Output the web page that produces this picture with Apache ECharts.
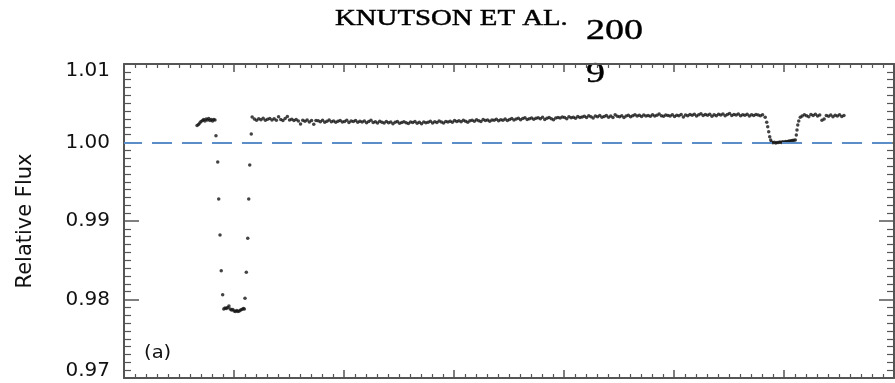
<!DOCTYPE html>
<html><head><meta charset="utf-8">
<script src="https://cdn.jsdelivr.net/npm/echarts@6/dist/echarts.min.js"></script>
<style>html,body{margin:0;padding:0;background:#fff}#c{width:895px;height:383px}</style>
</head><body><div id="c"></div>
<script>
// Axis ranges / ticks
const xTicks = [-0.1, 0.0, 0.1, 0.2, 0.3, 0.4, 0.5, 0.6];
const yTickLabels = ['0.97', '0.98', '0.99', '1.00', '1.01'];

// Transit (orbital phase, relative flux)
const transitPhase = [-0.0336,-0.0323,-0.0311,-0.0300,-0.0286,-0.0275,-0.0264,-0.0252,-0.0241,-0.0230,-0.0218,-0.0207,-0.0195,-0.0184,-0.0173,
  -0.0164,-0.0148,-0.0139,-0.0127,-0.0116,-0.0103,
  -0.0093,-0.0082,-0.0070,-0.0058,-0.0046,-0.0035,-0.0023,-0.0011,0.0001,0.0013,0.0025,0.0036,0.0048,0.0060,0.0072,0.0084,0.0094,
  0.0100,0.0112,0.0125,0.0134,0.0143,0.0157];
const transitFlux = [1.00217,1.00229,1.00248,1.00268,1.00280,1.00293,1.00274,1.00299,1.00287,1.00306,1.00280,1.00293,1.00274,1.00293,1.00287,
  1.00087,0.99752,0.99280,0.98822,0.98367,0.98061,
  0.97879,0.97892,0.97885,0.97898,0.97917,0.97879,0.97866,0.97873,0.97854,0.97847,0.97860,0.97847,0.97854,0.97866,0.97873,0.97885,0.97879,
  0.98015,0.98347,0.98780,0.99280,0.99713,1.00108];

// Out-of-transit phase curve
const curvePhase = [
  0.0165,0.0185,0.0205,0.0225,0.0245,0.0265,0.0285,0.0305,0.0325,0.0345,
  0.0365,0.0385,0.0405,0.0425,0.0445,0.0465,0.0485,0.0505,0.0525,0.0545,
  0.0565,0.0585,0.0605,0.0625,0.0645,0.0665,0.0685,0.0705,0.0725,0.0745,
  0.0765,0.0785,0.0805,0.0825,0.0845,0.0865,0.0885,0.0905,0.0925,0.0945,
  0.0965,0.0985,0.1005,0.1025,0.1045,0.1065,0.1085,0.1105,0.1125,0.1145,
  0.1165,0.1185,0.1205,0.1225,0.1245,0.1265,0.1285,0.1305,0.1325,0.1345,
  0.1365,0.1385,0.1405,0.1425,0.1445,0.1465,0.1485,0.1505,0.1525,0.1545,
  0.1565,0.1585,0.1605,0.1625,0.1645,0.1665,0.1685,0.1705,0.1725,0.1745,
  0.1765,0.1785,0.1805,0.1825,0.1845,0.1865,0.1885,0.1905,0.1925,0.1945,
  0.1965,0.1985,0.2005,0.2025,0.2045,0.2065,0.2085,0.2105,0.2125,0.2145,
  0.2165,0.2185,0.2205,0.2225,0.2245,0.2265,0.2285,0.2305,0.2325,0.2345,
  0.2365,0.2385,0.2405,0.2425,0.2445,0.2465,0.2485,0.2505,0.2525,0.2545,
  0.2565,0.2585,0.2605,0.2625,0.2645,0.2665,0.2685,0.2705,0.2725,0.2745,
  0.2765,0.2785,0.2805,0.2825,0.2845,0.2865,0.2885,0.2905,0.2925,0.2945,
  0.2965,0.2985,0.3005,0.3025,0.3045,0.3065,0.3085,0.3105,0.3125,0.3145,
  0.3165,0.3185,0.3205,0.3225,0.3245,0.3265,0.3285,0.3305,0.3325,0.3345,
  0.3365,0.3385,0.3405,0.3425,0.3445,0.3465,0.3485,0.3505,0.3525,0.3545,
  0.3565,0.3585,0.3605,0.3625,0.3645,0.3665,0.3685,0.3705,0.3725,0.3745,
  0.3765,0.3785,0.3805,0.3825,0.3845,0.3865,0.3885,0.3905,0.3925,0.3945,
  0.3965,0.3985,0.4005,0.4025,0.4045,0.4065,0.4085,0.4105,0.4125,0.4145,
  0.4165,0.4185,0.4205,0.4225,0.4245,0.4265,0.4285,0.4305,0.4325,0.4345,
  0.4365,0.4385,0.4405,0.4425,0.4445,0.4465,0.4485,0.4505,0.4525,0.4545,
  0.4565,0.4585,0.4605,0.4625,0.4645,0.4665,0.4685,0.4705,0.4725,0.4745,
  0.4765,0.4785,0.4805];
const curveFlux = [
  1.00325,1.00298,1.00285,1.00302,1.00291,1.00310,1.00283,1.00296,1.00305,1.00288,
  1.00301,1.00284,1.00328,1.00293,1.00279,1.00306,1.00331,1.00288,1.00297,1.00280,
  1.00292,1.00275,1.00236,1.00284,1.00270,1.00288,1.00262,1.00279,1.00231,1.00281,
  1.00276,1.00265,1.00283,1.00259,1.00271,1.00287,1.00263,1.00275,1.00257,1.00270,
  1.00281,1.00262,1.00268,1.00284,1.00255,1.00273,1.00266,1.00279,1.00258,1.00271,
  1.00262,1.00275,1.00251,1.00268,1.00283,1.00256,1.00264,1.00249,1.00270,1.00258,
  1.00247,1.00266,1.00252,1.00261,1.00240,1.00258,1.00269,1.00245,1.00255,1.00263,
  1.00251,1.00242,1.00260,1.00254,1.00268,1.00246,1.00257,1.00238,1.00262,1.00253,
  1.00259,1.00270,1.00248,1.00265,1.00256,1.00274,1.00261,1.00250,1.00268,1.00262,
  1.00272,1.00258,1.00281,1.00266,1.00276,1.00263,1.00285,1.00270,1.00259,1.00278,
  1.00284,1.00271,1.00290,1.00277,1.00268,1.00293,1.00279,1.00286,1.00272,1.00288,
  1.00282,1.00297,1.00276,1.00291,1.00284,1.00299,1.00280,1.00293,1.00305,1.00286,
  1.00298,1.00310,1.00291,1.00305,1.00316,1.00294,1.00302,1.00312,1.00297,1.00308,
  1.00315,1.00302,1.00321,1.00293,1.00308,1.00318,1.00304,1.00290,1.00312,1.00320,
  1.00311,1.00326,1.00318,1.00302,1.00329,1.00315,1.00323,1.00308,1.00331,1.00319,
  1.00324,1.00335,1.00318,1.00341,1.00327,1.00312,1.00336,1.00329,1.00343,1.00322,
  1.00331,1.00345,1.00323,1.00338,1.00320,1.00352,1.00334,1.00327,1.00340,1.00317,
  1.00336,1.00348,1.00329,1.00342,1.00355,1.00337,1.00346,1.00330,1.00351,1.00339,
  1.00344,1.00333,1.00352,1.00338,1.00347,1.00362,1.00341,1.00335,1.00350,1.00343,
  1.00338,1.00354,1.00330,1.00347,1.00341,1.00358,1.00326,1.00349,1.00340,1.00356,
  1.00346,1.00359,1.00339,1.00352,1.00366,1.00344,1.00357,1.00348,1.00361,1.00335,
  1.00353,1.00342,1.00360,1.00349,1.00364,1.00340,1.00356,1.00368,1.00345,1.00358,
  1.00350,1.00362,1.00341,1.00355,1.00347,1.00360,1.00338,1.00352,1.00344,1.00357,
  1.00349,1.00340,1.00352];

// Secondary eclipse
const eclipsePhase = [0.4829,0.4843,0.4852,0.4861,0.4870,0.4879,
  0.4886,0.4899,0.4912,0.4925,0.4937,0.4950,0.4963,0.4976,0.4988,0.5001,0.5014,0.5026,0.5039,0.5052,0.5065,0.5077,0.5090,
  0.5103,0.5112,0.5118,0.5125,0.5134,0.5148];
const eclipseFlux = [1.00321,1.00257,1.00201,1.00138,1.00074,1.00032,
  1.00006,0.99996,1.00003,0.99994,1.00000,0.99999,1.00006,1.00001,1.00009,1.00004,1.00013,1.00009,1.00017,1.00019,1.00022,1.00025,1.00029,
  1.00032,1.00096,1.00159,1.00223,1.00274,1.00321];

// After eclipse
const postPhase = [0.5165,0.5185,0.5205,0.5225,0.5245,0.5265,0.5285,0.5305,0.5325,0.5345,
  0.5365,0.5385,0.5405,0.5425,0.5445,0.5465,0.5485,0.5505,0.5525,0.5545];
const postFlux = [1.00338,1.00352,1.00341,1.00329,1.00356,1.00345,1.00360,1.00337,1.00349,1.00283,
  1.00298,1.00343,1.00335,1.00351,1.00328,1.00346,1.00339,1.00354,1.00331,1.00344];

const refLevel = 1.00;

function pairs(xs, ys) { return xs.map((x, i) => [x, ys[i]]); }
const points = [].concat(pairs(transitPhase, transitFlux), pairs(curvePhase, curveFlux),
  pairs(eclipsePhase, eclipseFlux), pairs(postPhase, postFlux));

const axisColor = '#555';
const yMin = parseFloat(yTickLabels[0]), yMax = parseFloat(yTickLabels[yTickLabels.length - 1]);
function xAxisCfg(pos) {
  return {
    type: 'value', position: pos, min: xTicks[0], max: xTicks[xTicks.length - 1], interval: 0.1,
    axisLine: { show: true, onZero: false, lineStyle: { color: axisColor, width: 2 } },
    axisTick: { show: true, inside: true, length: 8, lineStyle: { color: axisColor, width: 1.5 } },
    minorTick: { show: true, splitNumber: 10, length: 4, lineStyle: { color: axisColor, width: 1.2 } },
    axisLabel: { show: false }, splitLine: { show: false }, minorSplitLine: { show: false }
  };
}
const labelFont = { fontFamily: 'DejaVu Sans', fontSize: 20, color: '#111' };
function yAxisCfg(pos, labels) {
  const c = {
    type: 'value', position: pos, min: yMin, max: yMax, interval: 0.01,
    axisLine: { show: true, onZero: false, lineStyle: { color: axisColor, width: 2 } },
    axisTick: { show: true, inside: true, length: 15, lineStyle: { color: axisColor, width: 1.5 } },
    minorTick: { show: true, splitNumber: 10, length: 7, lineStyle: { color: axisColor, width: 1.2 } },
    axisLabel: { show: labels, margin: 14, fontFamily: 'DejaVu Sans', fontSize: 20, color: '#111',
      formatter: v => {
        const s = v.toFixed(2);
        if (s === yTickLabels[0]) return '{lo|' + s + '}';
        if (s === yTickLabels[yTickLabels.length - 1]) return '{hi|' + s + '}';
        return s;
      },
      rich: {
        lo: Object.assign({ padding: [0, 0, 14, 0] }, labelFont),
        hi: Object.assign({ padding: [14, 0, 0, 0] }, labelFont)
      } },
    splitLine: { show: false }, minorSplitLine: { show: false }
  };
  if (labels) {
    c.name = 'Relative Flux'; c.nameLocation = 'middle'; c.nameGap = 88;
    c.nameTextStyle = { fontFamily: 'DejaVu Sans', fontSize: 21, color: '#111' };
  }
  return c;
}

const chart = echarts.init(document.getElementById('c'), null, { renderer: 'canvas' });
chart.setOption({
  animation: false,
  backgroundColor: '#fff',
  grid: { left: 124, right: 1, top: 64, bottom: 5, containLabel: false },
  xAxis: [xAxisCfg('bottom'), xAxisCfg('top')],
  yAxis: [yAxisCfg('left', true), yAxisCfg('right', false)],
  graphic: [
    { type: 'text', x: 335, y: 19, scaleX: 1.2, style: { text: 'KNUTSON ET AL.', font: '24px "Liberation Serif"', fill: '#000', stroke: '#000', lineWidth: 0.5, textAlign: 'left', textVerticalAlign: 'middle' } },
    { type: 'text', x: 586, y: 31, scaleX: 1.27, style: { text: '200', font: '30px "Liberation Serif"', fill: '#000', stroke: '#000', lineWidth: 0.4, textAlign: 'left', textVerticalAlign: 'middle' } },
    { type: 'text', x: 586, y: 74, scaleX: 1.27, style: { text: '9', font: '30px "Liberation Serif"', fill: '#000', stroke: '#000', lineWidth: 0.4, textAlign: 'left', textVerticalAlign: 'middle' } },
    { type: 'text', x: 144, y: 353.5, scaleX: 1.15, style: { text: '(a)', font: '17px "DejaVu Sans"', fill: '#111', textAlign: 'left', textVerticalAlign: 'middle' } }
  ],
  series: [
    { type: 'line', data: [], xAxisIndex: 0, yAxisIndex: 0, z: 1,
      markLine: { silent: true, symbol: 'none', label: { show: false },
        lineStyle: { color: '#5b8dc8', width: 2, type: [20, 10], dashOffset: 2 },
        data: [{ yAxis: refLevel }] } },
    { type: 'scatter', data: points, xAxisIndex: 0, yAxisIndex: 0, z: 3,
      symbol: 'circle', symbolSize: 3.5, itemStyle: { color: '#141414' } }
  ]
});
</script>
</body></html>
